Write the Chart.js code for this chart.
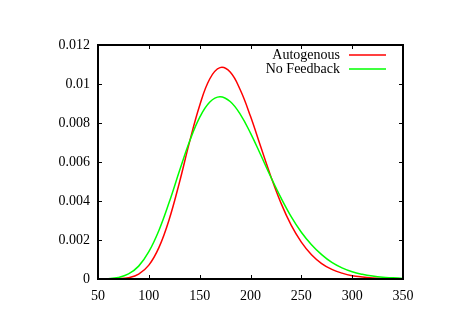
<!DOCTYPE html>
<html>
<head>
<meta charset="utf-8">
<script src="https://cdn.jsdelivr.net/npm/chart.js@4/dist/chart.umd.min.js"></script>
<style>
  body { margin: 0; background: #fff; }
  canvas { display: block; }
</style>
</head>
<body>
<canvas id="grafico" width="468" height="331"></canvas>
<script>
const tempos = [50, 60, 70, 80, 90, 100, 110, 120, 130, 140, 150, 160, 170, 180, 190, 200,
  210, 220, 230, 240, 250, 260, 270, 280, 290, 300, 310, 320, 330, 340, 350];
const autogenous = [0, 0.000002, 0.000013, 0.000068, 0.00025, 0.00071, 0.00162, 0.00305, 0.00493,
  0.00702, 0.0089, 0.01027, 0.01084, 0.01061, 0.00969, 0.00834, 0.00679, 0.00526, 0.00389, 0.00276,
  0.00189, 0.00124, 0.00079, 0.00049, 0.0003, 0.00017, 0.0001, 0.000056, 0.00003, 0.000016, 0.000009];
const noFeedback = [0.000002, 0.000017, 0.000078, 0.00026, 0.00066, 0.0014, 0.0025, 0.00393, 0.00552,
  0.00705, 0.00829, 0.00908, 0.00935, 0.0091, 0.00844, 0.00748, 0.00637, 0.00523, 0.00416, 0.0032,
  0.0024, 0.00176, 0.00125, 0.00085, 0.00057, 0.00037, 0.00024, 0.00015, 0.00009, 0.00006, 0.00003];
const nomes = ['Autogenous', 'No Feedback'];

const fonte = { family: '"Liberation Serif", "DejaVu Serif", serif', size: 14 };

function pontos(valores) {
  return tempos.map((t, i) => ({ x: t, y: valores[i] }));
}

// moldura e marcas para dentro, estilo gnuplot
const moldura = {
  id: 'moldura',
  afterDatasetsDraw(chart) {
    const ctx = chart.ctx;
    const a = chart.chartArea;
    const sx = chart.scales.x;
    const sy = chart.scales.y;
    ctx.save();
    ctx.strokeStyle = '#000';
    ctx.lineWidth = 1;
    ctx.beginPath();
    sx.ticks.forEach(t => {
      const px = Math.round(sx.getPixelForValue(t.value)) + 0.5;
      ctx.moveTo(px, a.bottom); ctx.lineTo(px, a.bottom - 4);
      ctx.moveTo(px, a.top); ctx.lineTo(px, a.top + 4);
    });
    sy.ticks.forEach(t => {
      const py = Math.round(sy.getPixelForValue(t.value)) + 0.5;
      ctx.moveTo(a.left, py); ctx.lineTo(a.left + 4, py);
      ctx.moveTo(a.right, py); ctx.lineTo(a.right - 4, py);
    });
    ctx.stroke();
    ctx.lineWidth = 2;
    ctx.strokeRect(a.left, a.top, a.right - a.left, a.bottom - a.top);

    // legenda
    ctx.font = fonte.size + 'px ' + fonte.family;
    ctx.textAlign = 'right';
    ctx.textBaseline = 'middle';
    chart.data.datasets.forEach((ds, i) => {
      const y = 55 + i * 14;
      ctx.fillStyle = '#000';
      ctx.fillText(ds.label, 340, y);
      ctx.strokeStyle = ds.borderColor;
      ctx.lineWidth = 1.5;
      ctx.beginPath();
      ctx.moveTo(349, y); ctx.lineTo(386, y);
      ctx.stroke();
    });
    ctx.restore();
  }
};

new Chart(document.getElementById('grafico').getContext('2d'), {
  type: 'line',
  data: {
    datasets: [{
      label: nomes[0],
      data: pontos(autogenous),
      borderColor: '#ff0000',
      borderWidth: 1.5,
      pointRadius: 0,
      tension: 0.4,
      order: 1
    }, {
      label: nomes[1],
      data: pontos(noFeedback),
      borderColor: '#00ff00',
      borderWidth: 1.5,
      pointRadius: 0,
      tension: 0.4,
      order: 0
    }]
  },
  options: {
    responsive: false,
    animation: false,
    layout: { padding: { left: 0, right: 65, top: 45, bottom: 0 } },
    plugins: {
      legend: { display: false },
      tooltip: { enabled: false }
    },
    scales: {
      x: {
        type: 'linear',
        min: 50,
        max: 350,
        grid: { display: false, drawTicks: false },
        border: { display: false },
        ticks: { stepSize: 50, color: '#000', font: fonte, padding: 9, maxRotation: 0 },
        afterFit(scale) { scale.height = 52; }
      },
      y: {
        min: 0,
        max: 0.012,
        grid: { display: false, drawTicks: false },
        border: { display: false },
        ticks: {
          stepSize: 0.002,
          color: '#000',
          font: fonte,
          padding: 8,
          callback: v => String(+v.toFixed(4))
        },
        afterFit(scale) { scale.width = 98; }
      }
    }
  },
  plugins: [moldura]
});
</script>
</body>
</html>
